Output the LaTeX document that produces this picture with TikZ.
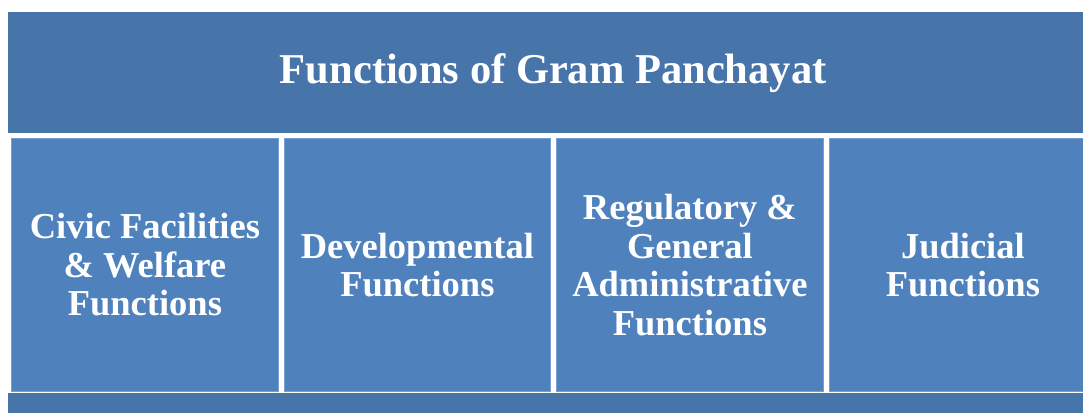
\documentclass[tikz,border=0pt]{standalone}
\usepackage{fontspec}
\setmainfont{Liberation Serif}

\definecolor{barblue}{RGB}{71,116,169}
\definecolor{boxblue}{RGB}{79,129,189}
\definecolor{edgeblue}{RGB}{122,158,207}

\tikzset{
	bar/.style={fill=barblue, text=white, anchor=north west, inner sep=0pt, minimum width=1090pt,
		font=\fontsize{42.5}{46}\selectfont\bfseries},
	func/.style={fill=boxblue, draw=edgeblue, line width=0.8pt, text=white, align=center,
		anchor=north west, inner sep=0pt, minimum width=267pt, minimum height=253pt,
		font=\fontsize{36.5}{38.5}\selectfont\bfseries},
}

\begin{document}
\begin{tikzpicture}[x=1pt,y=-1pt]
\useasboundingbox (0,0) rectangle (1083,412);
\clip (0,0) rectangle (1083,412);

% TITLE
\node[bar, minimum height=121pt] (title) at (8,12) {Functions of Gram Panchayat};

% FUNCTIONS
\node[func] (civic) at (11,138) {Civic Facilities\\ \& Welfare\\ Functions};
\node[func, minimum width=266pt] (devel) at (284,138) {Developmental\\ Functions};
\node[func] (regul) at (556,138) {Regulatory \&\\ General\\ Administrative\\ Functions};
\node[func] (judic) at (829,138) {Judicial\\ Functions};

% BASE
\node[bar, minimum height=25pt] (base) at (8,393) {};

\end{tikzpicture}
\end{document}
